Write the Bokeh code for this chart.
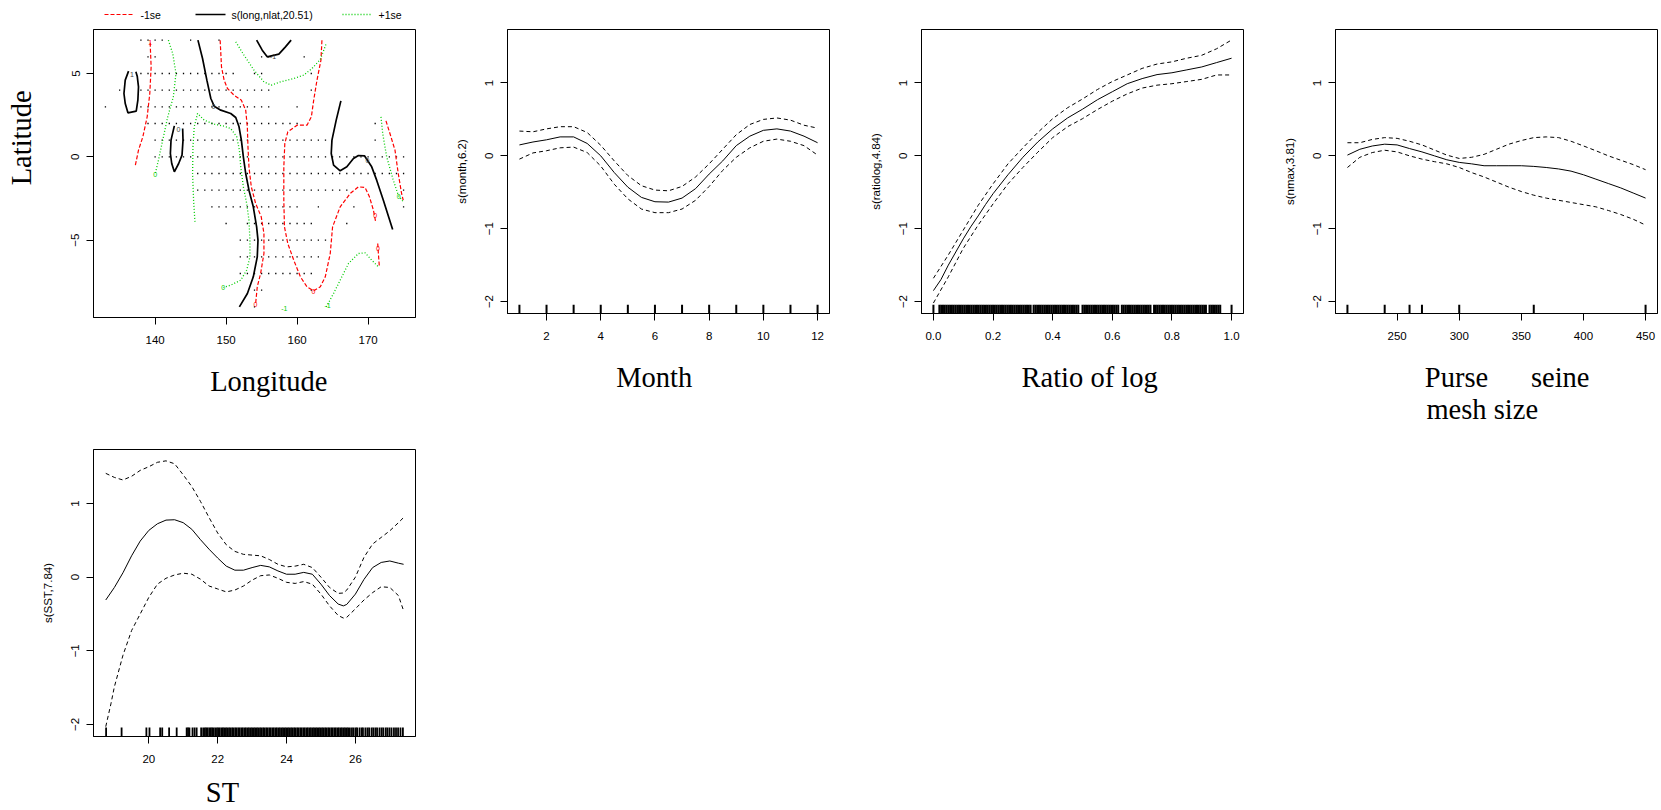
import math
from bokeh.plotting import figure
from bokeh.models import Range1d, FixedTicker, PrintfTickFormatter
from bokeh.layouts import row, column
from bokeh.embed import file_html
from bokeh.resources import INLINE
from bokeh.core.properties import value

SANS = "Liberation Sans"
SERIF = "Liberation Serif"
TICK_FS = "11.5px"
TITLE_FS = "28.5px"
RED = "#FF0000"
GREEN = "#00CC00"
NB = "\u00a0"

# ---------------- Panel 1 data: s(long,nlat) contours ----------------
legend_labels = ["-1se", "s(long,nlat,20.51)", "+1se"]

black_lon = [
    [136.26, 135.79, 135.61, 135.79, 136.17, 137.34, 137.57, 137.66, 137.48, 137.29],
    [142.71, 142.24, 142.15, 142.34, 142.71, 143.32, 143.79, 143.93, 143.88],
    [146.03, 146.68, 147.29, 147.85, 148.32, 149.25, 150.65, 151.36, 151.82, 152.15, 152.43,
     152.76, 153.22, 153.83, 154.30, 154.49, 154.39, 153.83, 153.00, 151.87],
    [154.30, 155.09, 155.79, 157.43, 158.36, 159.16],
    [166.17, 165.51, 164.91, 164.81, 165.14, 166.07, 167.01, 167.94, 168.64, 169.49, 170.51,
     171.21, 172.15, 173.46],
]
black_lat = [
    [5.14, 4.6, 3.8, 3.2, 2.64, 2.74, 3.4, 4.2, 4.84, 5.1],
    [1.86, 1.0, 0.2, -0.4, -0.9, -0.4, 0.1, 1.0, 1.7],
    [7.0, 5.9, 4.6, 3.5, 3.04, 2.8, 2.6, 2.36, 1.8, 1.0, 0.0, -1.0, -2.0, -3.0, -4.2, -5.0,
     -6.0, -7.2, -8.2, -9.0],
    [7.0, 6.4, 6.0, 6.16, 6.6, 7.0],
    [3.36, 2.2, 1.0, 0.2, -0.5, -0.84, -0.6, -0.1, 0.08, 0.06, -0.6, -1.4, -2.6, -4.36],
]
red_lon = [
    [139.30, 139.44, 139.25, 138.88, 138.27, 137.66, 137.20],
    [149.16, 149.35, 149.72, 150.19, 151.12, 152.15, 152.76, 152.99, 153.08, 153.22, 153.55,
     154.16, 154.95, 155.33, 155.33, 154.86, 154.39, 154.16],
    [163.50, 163.36, 162.80, 162.34, 162.01, 161.40, 160.00, 158.69, 158.27, 158.13, 158.13,
     158.22, 158.69, 159.53, 160.47, 161.40, 162.34, 163.27, 163.97, 164.67, 165.00, 166.07,
     167.48, 168.64, 169.58, 170.19, 170.75, 171.07],
    [171.36, 171.45, 171.59],
    [172.52, 173.08, 173.79, 174.25, 174.72, 174.95],
]
red_lat = [
    [6.84, 5.4, 3.8, 2.4, 1.2, 0.4, -0.54],
    [7.0, 5.4, 4.6, 4.1, 3.7, 3.4, 2.8, 1.8, 0.6, -0.6, -1.8, -2.8, -3.6, -4.6, -5.8, -7.0,
     -7.8, -8.8],
    [7.0, 5.8, 4.6, 3.4, 2.4, 1.9, 1.9, 1.5, 0.8, -0.6, -2.6, -4.2, -5.2, -6.2, -7.2, -7.8,
     -8.04, -7.8, -7.2, -5.8, -4.2, -3.0, -2.2, -1.8, -1.84, -2.4, -3.2, -3.9],
    [-5.2, -5.8, -6.6],
    [2.16, 1.4, 0.4, -1.0, -2.2, -2.6],
]
green_lon = [
    [141.87, 142.48, 142.94, 142.57, 141.78, 141.07, 140.47, 140.00],
    [145.61, 145.42, 145.28, 145.33, 145.51, 145.98, 146.92, 148.32, 149.72, 150.65, 151.50,
     151.87, 152.06, 152.43, 152.90, 153.22, 153.36, 153.36, 152.90, 152.06, 150.65, 149.63],
    [151.36, 152.52, 153.93, 155.33, 156.36, 157.66, 159.53, 160.93, 162.10, 163.27, 164.11],
    [164.11, 165.14, 166.07, 167.24, 168.64, 169.58, 170.51, 171.45],
    [171.82, 172.06, 172.62, 173.55, 174.25, 174.95],
]
green_lat = [
    [7.0, 6.2, 5.0, 3.6, 2.4, 1.0, -0.2, -1.04],
    [-3.9, -2.6, -1.0, 0.6, 1.8, 2.6, 2.2, 1.96, 1.84, 1.7, 1.2, 0.4, -0.6, -1.8, -2.8, -3.8,
     -5.0, -6.0, -6.8, -7.4, -7.7, -7.84],
    [6.9, 6.1, 5.2, 4.5, 4.3, 4.5, 4.7, 4.9, 5.3, 5.84, 6.8],
    [-9.0, -8.2, -7.4, -6.4, -5.8, -5.76, -6.2, -6.6],
    [2.4, 1.4, 0.0, -1.4, -2.3, -2.7],
]
clab_lon = [136.75, 143.3, 148.2, 156.6, 169.9, 139.3, 154.15, 162.3, 171.0, 171.4,
            140.0, 149.6, 164.3, 158.2, 174.3]
clab_lat = [4.95, 1.65, 3.05, 6.0, -0.2, 6.85, -8.85, -8.05, -3.5, -5.5,
            -1.05, -7.85, -8.9, -9.1, -2.35]
clab_txt = ["1", "0", "0", "-1", "0", "1", "0", "0", "0", "0", "0", "0", "-1", "-1", "0"]
clab_col = ["#444444"] * 5 + [RED] * 5 + [GREEN] * 5

# sampled locations (lat row, lon spans)
grid_lat = [7, 6, 5, 4, 3, 2, 1, 0, -1, -2, -3, -4, -5, -6, -7, -8, -9]
grid_spans = [
    [(138, 141), (145, 145), (149, 149)],
    [(139, 140), (155, 156), (161, 161)],
    [(138, 151), (154, 155), (162, 162)],
    [(135, 135), (138, 156), (162, 162)],
    [(133, 133), (138, 156), (160, 160)],
    [(139, 160), (171, 171)],
    [(140, 164), (171, 171)],
    [(140, 175)],
    [(146, 175)],
    [(146, 167), (175, 175)],
    [(148, 160), (163, 163), (168, 168), (175, 175)],
    [(150, 150), (153, 162), (167, 167)],
    [(152, 164)],
    [(152, 163)],
    [(152, 162)],
    [(154, 155), (162, 162)],
    [(154, 154)],
]

# ---------------- Panel 2: month ----------------
month_x = [1, 1.5, 2, 2.5, 3, 3.5, 4, 4.5, 5, 5.5, 6, 6.5, 7, 7.5, 8, 8.5, 9, 9.5, 10, 10.5,
           11, 11.5, 12]
month_fit = [0.15, 0.19, 0.22, 0.26, 0.26, 0.17, 0.0, -0.23, -0.43, -0.57, -0.63, -0.635,
             -0.58, -0.45, -0.25, -0.07, 0.14, 0.27, 0.35, 0.37, 0.34, 0.27, 0.18]
month_up = [0.34, 0.33, 0.37, 0.40, 0.40, 0.32, 0.145, -0.07, -0.27, -0.41, -0.47, -0.48,
            -0.42, -0.29, -0.11, 0.09, 0.29, 0.43, 0.50, 0.52, 0.49, 0.42, 0.38]
month_lo = [-0.045, 0.04, 0.07, 0.11, 0.12, 0.045, -0.14, -0.39, -0.59, -0.73, -0.78, -0.78,
            -0.73, -0.61, -0.42, -0.20, -0.02, 0.11, 0.20, 0.23, 0.20, 0.14, 0.01]
month_rug = [1, 2, 3, 4, 5, 6, 7, 8, 9, 10, 11, 12]

# ---------------- Panel 3: ratio of log ----------------
ratio_x = [0.0, 0.025, 0.05, 0.075, 0.1, 0.125, 0.15, 0.175, 0.2, 0.25, 0.3, 0.35, 0.4, 0.45,
           0.5, 0.55, 0.6, 0.65, 0.7, 0.75, 0.8, 0.85, 0.9, 0.95, 1.0]
ratio_fit = [-1.85, -1.70, -1.50, -1.32, -1.14, -0.975, -0.825, -0.667, -0.52, -0.26, -0.02,
             0.19, 0.37, 0.52, 0.64, 0.77, 0.88, 0.99, 1.06, 1.115, 1.14, 1.18, 1.22, 1.28, 1.34]
ratio_x2 = [0.0, 0.05, 0.1, 0.15, 0.2, 0.25, 0.3, 0.35, 0.4, 0.45, 0.5, 0.55, 0.6, 0.65, 0.7,
            0.75, 0.8, 0.85, 0.9, 0.95, 1.0]
ratio_up = [-1.68, -1.36, -1.02, -0.68, -0.385, -0.11, 0.11, 0.32, 0.51, 0.66, 0.78, 0.91,
            1.02, 1.11, 1.20, 1.26, 1.29, 1.34, 1.38, 1.47, 1.59]
ratio_lo = [-2.02, -1.66, -1.27, -0.95, -0.66, -0.385, -0.16, 0.05, 0.25, 0.40, 0.51, 0.635,
            0.75, 0.85, 0.93, 0.97, 0.99, 1.02, 1.05, 1.11, 1.11]
ratio_rug = [
    0.000, 0.020, 0.026, 0.032, 0.038, 0.044, 0.050, 0.056, 0.062, 0.068, 0.074, 0.080, 0.086,
    0.092, 0.098, 0.104, 0.110, 0.116, 0.122, 0.128, 0.134, 0.140, 0.146, 0.152, 0.158, 0.164,
    0.170, 0.176, 0.182, 0.188, 0.194, 0.200, 0.206, 0.212, 0.218, 0.224, 0.230, 0.236, 0.242,
    0.248, 0.254, 0.260, 0.266, 0.272, 0.278, 0.284, 0.290, 0.296, 0.302, 0.308, 0.314, 0.320,
    0.326, 0.336, 0.342, 0.348, 0.354, 0.360, 0.366, 0.372, 0.378, 0.384, 0.390, 0.396, 0.402,
    0.408, 0.414, 0.420, 0.426, 0.432, 0.438, 0.444, 0.450, 0.456, 0.462, 0.468, 0.474, 0.480,
    0.486, 0.500, 0.506, 0.512, 0.518, 0.524, 0.530, 0.536, 0.542, 0.548, 0.554, 0.560, 0.566,
    0.572, 0.578, 0.584, 0.590, 0.596, 0.602, 0.608, 0.614, 0.620, 0.632, 0.638, 0.644, 0.650,
    0.656, 0.662, 0.668, 0.674, 0.680, 0.686, 0.692, 0.698, 0.704, 0.710, 0.716, 0.722, 0.728,
    0.740, 0.746, 0.752, 0.758, 0.764, 0.770, 0.776, 0.782, 0.788, 0.794, 0.800, 0.806, 0.812,
    0.818, 0.824, 0.830, 0.836, 0.842, 0.848, 0.854, 0.860, 0.866, 0.872, 0.878, 0.884, 0.890,
    0.896, 0.902, 0.908, 0.914, 0.926, 0.932, 0.938, 0.944, 0.950, 0.956, 0.962, 1.000]

# ---------------- Panel 4: purse seine mesh size ----------------
nmax_x = [210, 220, 230, 240, 250, 260, 270, 280, 290, 300, 310, 320, 330, 340, 350, 360, 370,
          380, 390, 400, 410, 420, 430, 440, 450]
nmax_fit = [0.01, 0.09, 0.135, 0.16, 0.15, 0.10, 0.054, 0.0, -0.054, -0.09, -0.11, -0.136,
            -0.136, -0.136, -0.136, -0.145, -0.16, -0.18, -0.21, -0.26, -0.32, -0.38, -0.44,
            -0.51, -0.58]
nmax_up = [0.18, 0.18, 0.225, 0.25, 0.24, 0.20, 0.15, 0.08, 0.01, -0.036, -0.02, 0.02, 0.09,
           0.16, 0.21, 0.25, 0.26, 0.25, 0.20, 0.136, 0.07, 0.0, -0.06, -0.12, -0.19]
nmax_lo = [-0.16, -0.02, 0.045, 0.077, 0.054, 0.0, -0.045, -0.08, -0.11, -0.16, -0.23, -0.29,
           -0.36, -0.43, -0.49, -0.54, -0.58, -0.61, -0.64, -0.67, -0.70, -0.75, -0.805, -0.87,
           -0.95]
nmax_rug = [210, 240, 260, 270, 300, 360, 450]

# ---------------- Panel 5: SST ----------------
sst_x = [18.75, 19.0, 19.25, 19.5, 19.75, 20.0, 20.25, 20.5, 20.75, 21.0, 21.25, 21.5, 21.75,
         22.0, 22.25, 22.5, 22.75, 23.0, 23.25, 23.5, 23.75, 24.0, 24.25, 24.5, 24.75, 25.0,
         25.25, 25.5, 25.65, 25.75, 26.0, 26.25, 26.5, 26.75, 27.0, 27.25, 27.4]
sst_fit = [-0.31, -0.14, 0.06, 0.29, 0.49, 0.635, 0.725, 0.775, 0.78, 0.74, 0.65, 0.51, 0.38,
           0.26, 0.15, 0.095, 0.095, 0.13, 0.16, 0.14, 0.085, 0.04, 0.04, 0.065, 0.04, -0.095,
           -0.25, -0.365, -0.39, -0.37, -0.23, -0.03, 0.13, 0.20, 0.22, 0.19, 0.175]
sst_up = [1.41, 1.355, 1.32, 1.37, 1.45, 1.50, 1.56, 1.58, 1.54, 1.39, 1.23, 1.03, 0.81, 0.60,
          0.44, 0.35, 0.31, 0.30, 0.29, 0.24, 0.175, 0.14, 0.15, 0.175, 0.13, 0.0, -0.14, -0.22,
          -0.215, -0.175, 0.0, 0.27, 0.45, 0.54, 0.63, 0.74, 0.81]
sst_xl = [18.75, 18.9, 19.0, 19.25, 19.5, 19.75, 20.0, 20.25, 20.5, 20.75, 21.0, 21.25, 21.5,
          21.75, 22.0, 22.25, 22.5, 22.75, 23.0, 23.25, 23.5, 23.75, 24.0, 24.25, 24.5, 24.75,
          25.0, 25.25, 25.5, 25.65, 25.75, 26.0, 26.25, 26.5, 26.75, 27.0, 27.25, 27.4]
sst_lo = [-2.03, -1.72, -1.49, -1.06, -0.725, -0.50, -0.275, -0.095, -0.015, 0.03, 0.054, 0.04,
          -0.027, -0.12, -0.16, -0.20, -0.175, -0.12, -0.04, 0.02, 0.03, -0.015, -0.07, -0.085,
          -0.06, -0.095, -0.23, -0.39, -0.52, -0.555, -0.545, -0.43, -0.31, -0.21, -0.13,
          -0.14, -0.25, -0.455]
sst_rug = [
    18.76, 19.21, 19.93, 20.02, 20.33, 20.39, 20.59, 20.81, 21.10, 21.14, 21.18, 21.27, 21.33,
    21.39, 21.52, 21.58, 21.63, 21.67, 21.71, 21.76, 21.80, 21.84, 21.88, 21.93, 21.98, 22.02,
    22.06, 22.11, 22.15, 22.19, 22.24, 22.28, 22.33, 22.37, 22.42, 22.46, 22.51, 22.55, 22.60,
    22.64, 22.69, 22.73, 22.78, 22.82, 22.87, 22.91, 22.96, 23.00, 23.05, 23.09, 23.14, 23.18,
    23.23, 23.27, 23.32, 23.36, 23.41, 23.45, 23.50, 23.54, 23.59, 23.63, 23.68, 23.72, 23.77,
    23.81, 23.86, 23.90, 23.95, 23.99, 24.04, 24.08, 24.13, 24.17, 24.22, 24.26, 24.31, 24.35,
    24.40, 24.44, 24.49, 24.53, 24.58, 24.62, 24.67, 24.71, 24.76, 24.80, 24.85, 24.89, 24.94,
    24.98, 25.03, 25.07, 25.12, 25.16, 25.21, 25.25, 25.30, 25.34, 25.39, 25.43, 25.48, 25.52,
    25.57, 25.61, 25.66, 25.70, 25.75, 25.79, 25.84, 25.90, 25.95, 26.01, 26.05, 26.12, 26.18,
    26.22, 26.29, 26.35, 26.40, 26.47, 26.52, 26.58, 26.63, 26.70, 26.76, 26.81, 26.88, 26.93,
    26.99, 27.05, 27.12, 27.18, 27.24, 27.31, 27.38]

YR = (-2.164, 1.734)
Y_TICKS = [-2, -1, 0, 1]


def make_fig(width, height, xr, yr, bl, br, bt, bb, xticks, yticks, ylab=None, xlab=None,
             xlab_standoff=19):
    p = figure(width=width, height=height, x_range=Range1d(*xr), y_range=Range1d(*yr),
               output_backend="svg", toolbar_location=None, tools="",
               min_border_left=bl, min_border_right=br, min_border_top=bt,
               min_border_bottom=bb)
    p.xgrid.visible = False
    p.ygrid.visible = False
    p.outline_line_color = "black"
    p.outline_line_alpha = 1.0
    p.outline_line_width = 1
    p.background_fill_color = "white"
    p.border_fill_color = "white"
    for ax in (p.xaxis[0], p.yaxis[0]):
        ax.axis_line_color = "black"
        ax.major_tick_line_color = "black"
        ax.major_tick_out = 7
        ax.major_tick_in = 0
        ax.minor_tick_line_color = None
        ax.major_label_text_font = SANS
        ax.major_label_text_font_size = TICK_FS
        ax.major_label_text_color = "black"
        ax.axis_label_text_font = SANS
        ax.axis_label_text_font_size = TICK_FS
        ax.axis_label_text_font_style = "normal"
        ax.axis_label_text_color = "black"
    p.xaxis.ticker = FixedTicker(ticks=xticks)
    p.yaxis.ticker = FixedTicker(ticks=yticks)
    p.xaxis.major_label_standoff = 11
    p.yaxis.major_label_standoff = 7
    p.yaxis.major_label_orientation = "vertical"
    if ylab:
        p.yaxis.axis_label = ylab
        p.yaxis.axis_label_standoff = 15
    if xlab:
        p.xaxis.axis_label = xlab
        p.xaxis.axis_label_text_font = SERIF
        p.xaxis.axis_label_text_font_size = TITLE_FS
        p.xaxis.axis_label_standoff = xlab_standoff
        p.xaxis.axis_label_text_line_height = 1.05
    return p


def curves(p, x, fit, xu, up, xl, lo):
    p.line(x, fit, line_color="black", line_width=1)
    p.line(xu, up, line_color="black", line_width=1, line_dash="4 3")
    p.line(xl, lo, line_color="black", line_width=1, line_dash="4 3")


def rug(p, xs, yr, width):
    ln = 9 * (yr[1] - yr[0]) / 288.0
    p.segment(x0=xs, y0=[yr[0]] * len(xs), x1=xs, y1=[yr[0] + ln] * len(xs),
              line_color="black", line_width=width)


# ---------- key strip above panel 1 (pixel-scaled, frame aligned with panel 1) ----------
P1_BL, P1_BR, P1_W = 93, 7, 422
STRIP_H = 29
strip = figure(width=P1_W, height=STRIP_H, x_range=Range1d(P1_BL, P1_W - P1_BR),
               y_range=Range1d(STRIP_H, 0), output_backend="svg", toolbar_location=None,
               tools="", min_border_left=P1_BL, min_border_right=P1_BR, min_border_top=0,
               min_border_bottom=0, x_axis_location=None, y_axis_location=None)
strip.xgrid.visible = False
strip.ygrid.visible = False
strip.outline_line_color = None
strip.border_fill_color = "white"
strip.background_fill_color = "white"
key_y = 14
key_start = [104, 195, 342]
key_len = 30
key_styles = [(RED, 1.2, "4 2"), ("black", 1.7, "solid"), (GREEN, 1.3, "1 2")]
for x0, (col, lw, dash) in zip(key_start, key_styles):
    strip.segment(x0=[x0], y0=[key_y], x1=[x0 + key_len], y1=[key_y], line_color=col,
                  line_width=lw, line_dash=dash)
strip.text([x + key_len + 6 for x in key_start], [key_y] * 3, text=legend_labels,
           text_font=value(SANS), text_font_size="10.5px", text_color="black",
           text_align="left", text_baseline="middle")

# ---------- Panel 1 ----------
XR1 = (131.32, 176.68)
YR1 = (-9.64, 7.64)
p1 = make_fig(P1_W, 399, XR1, YR1, P1_BL, P1_BR, 0, 111, [140, 150, 160, 170], [-5, 0, 5],
              xlab=NB * 4 + "Longitude")
p1.yaxis.axis_label = NB * 10 + "Latitude"
p1.yaxis.axis_label_text_font = SERIF
p1.yaxis.axis_label_text_font_size = TITLE_FS
p1.yaxis.axis_label_standoff = 32

gx, gy = [], []
for la, spans in zip(grid_lat, grid_spans):
    for a, b in spans:
        for lo_ in range(a, b + 1):
            gx.append(lo_)
            gy.append(la)
p1.scatter(gx, gy, marker="square", size=1.3, color="black", line_color=None)

p1.multi_line(red_lon, red_lat, line_color=RED, line_width=1.2, line_dash="4 2")
p1.multi_line(black_lon, black_lat, line_color="black", line_width=1.7)
p1.multi_line(green_lon, green_lat, line_color=GREEN, line_width=1.3, line_dash="1 2")
p1.text(clab_lon, clab_lat, text=clab_txt, text_color=clab_col, text_font=value(SANS),
        text_font_size="7px", text_align="center", text_baseline="middle")

# ---------- Panel 2 ----------
p2 = make_fig(414, 428, (0.56, 12.44), YR, 85, 7, 29, 111, [2, 4, 6, 8, 10, 12], Y_TICKS,
              "s(month,6.2)", xlab="Month" + NB * 4)
curves(p2, month_x, month_fit, month_x, month_up, month_x, month_lo)
rug(p2, month_rug, YR, 2)

# ---------- Panel 3 ----------
p3 = make_fig(414, 428, (-0.04, 1.04), YR, 85, 7, 29, 111, [0.0, 0.2, 0.4, 0.6, 0.8, 1.0],
              Y_TICKS, "s(ratiolog,4.84)", xlab=NB * 2 + "Ratio of log")
p3.xaxis.formatter = PrintfTickFormatter(format="%.1f")
curves(p3, ratio_x, ratio_fit, ratio_x2, ratio_up, ratio_x2, ratio_lo)
rug(p3, ratio_rug, YR, 2.0)

# ---------- Panel 4 ----------
purse_lab = NB * 3 + "Purse" + NB * 6 + "seine\n" + NB * 3 + "mesh size" + NB * 7
p4 = make_fig(410, 428, (200.4, 459.6), YR, 85, 3, 29, 111, [250, 300, 350, 400, 450],
              Y_TICKS, "s(nmax,3.81)", xlab=purse_lab)
curves(p4, nmax_x, nmax_fit, nmax_x, nmax_up, nmax_x, nmax_lo)
rug(p4, nmax_rug, YR, 2)

# ---------- Panel 5 ----------
p5 = make_fig(422, 382, (18.394, 27.746), YR, 93, 7, 21, 73, [20, 22, 24, 26], Y_TICKS,
              "s(SST,7.84)", xlab="ST" + NB * 9, xlab_standoff=11)
curves(p5, sst_x, sst_fit, sst_x, sst_up, sst_xl, sst_lo)
rug(p5, sst_rug, YR, 1.8)

layout = column(row(column(strip, p1), p2, p3, p4), p5)
open("out.html", "w").write(file_html(layout, INLINE))
